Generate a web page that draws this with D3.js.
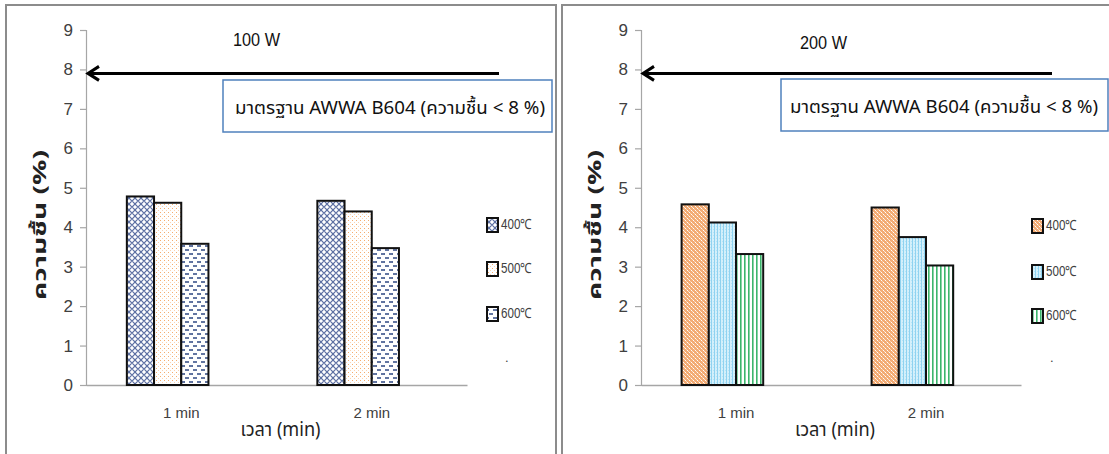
<!DOCTYPE html>
<html><head><meta charset="utf-8">
<script src="https://cdn.jsdelivr.net/npm/d3@7"></script>
<style>
html,body{margin:0;padding:0;background:#fff;}
svg{display:block;}
</style></head>
<body>
<svg id="chart" width="1109" height="454"></svg>
<script>
// ---------- data ----------
const categories = ["1 min", "2 min"];
const seriesNames = ["400℃", "500℃", "600℃", "."];
const yTicks = [0, 1, 2, 3, 4, 5, 6, 7, 8, 9];
const panelTitles = ["100 W", "200 W"];
const standardText = "มาตรฐาน  AWWA B604 (ความชื้น < 8 %)";
const yLabel = "ความชื้น (%)";
const xLabel = "เวลา (min)";
const standardLimit = 8;

// 100 W panel
const w100_400 = [4.78, 4.67];
const w100_500 = [4.62, 4.40];
const w100_600 = [3.58, 3.47];
const w100_blank = [null, null];
// 200 W panel
const w200_400 = [4.58, 4.50];
const w200_500 = [4.12, 3.75];
const w200_600 = [3.32, 3.03];
const w200_blank = [null, null];

// ---------- drawing ----------
const svg = d3.select("#chart");
const defs = svg.append("defs");
const NARROW = "'Liberation Sans Narrow','Liberation Sans',Arial,sans-serif";
const THAI = "'Noto Sans Thai','Leelawadee UI',Tahoma,'DejaVu Sans',sans-serif";

// patterns
function pat(id, w, h, build) {
  const p = defs.append("pattern").attr("id", id).attr("patternUnits", "userSpaceOnUse")
    .attr("width", w).attr("height", h);
  build(p);
}
pat("p100a", 6, 6, p => {
  p.append("rect").attr("width", 6).attr("height", 6).attr("fill", "#fff");
  p.append("path").attr("d", "M0,3 L3,0 L6,3 L3,6 Z").attr("fill", "none").attr("stroke", "#5d70a3").attr("stroke-width", 1.2);
});
pat("p100b", 4, 4, p => {
  p.append("rect").attr("width", 4).attr("height", 4).attr("fill", "#fff");
  p.append("rect").attr("x", 0).attr("y", 0).attr("width", 1).attr("height", 1).attr("fill", "#f4ac6e");
  p.append("rect").attr("x", 2).attr("y", 2).attr("width", 1).attr("height", 1).attr("fill", "#fad3b2");
});
pat("p100c", 8, 8, p => {
  p.append("rect").attr("width", 8).attr("height", 8).attr("fill", "#fff");
  p.append("line").attr("x1", 1).attr("x2", 5).attr("y1", 2).attr("y2", 2).attr("stroke", "#1f3a7a").attr("stroke-width", 1.4);
  p.append("line").attr("x1", 5).attr("x2", 9).attr("y1", 6).attr("y2", 6).attr("stroke", "#1f3a7a").attr("stroke-width", 1.4);
  p.append("line").attr("x1", -3).attr("x2", 1).attr("y1", 6).attr("y2", 6).attr("stroke", "#1f3a7a").attr("stroke-width", 1.4);
});
pat("p200a", 4, 4, p => {
  p.append("rect").attr("width", 4).attr("height", 4).attr("fill", "#f2ab74");
  p.append("rect").attr("x", 1).attr("y", 0).attr("width", 1).attr("height", 1).attr("fill", "#fff");
  p.append("rect").attr("x", 3).attr("y", 2).attr("width", 1).attr("height", 1).attr("fill", "#fff");
  p.append("rect").attr("x", 0).attr("y", 3).attr("width", 1).attr("height", 1).attr("fill", "#fde3cc");
  p.append("rect").attr("x", 2).attr("y", 1).attr("width", 1).attr("height", 1).attr("fill", "#fbd2b0");
});
pat("p200b", 3, 3, p => {
  p.append("rect").attr("width", 3).attr("height", 3).attr("fill", "#d4f0fb");
  p.append("rect").attr("x", 0).attr("y", 0).attr("width", 1).attr("height", 3).attr("fill", "#8fd2f0");
  p.append("rect").attr("x", 2).attr("y", 1).attr("width", 1).attr("height", 1).attr("fill", "#b6e4f7");
});
pat("p200c", 4, 4, p => {
  p.append("rect").attr("width", 4).attr("height", 4).attr("fill", "#fff");
  p.append("rect").attr("x", 0).attr("y", 0).attr("width", 1.6).attr("height", 4).attr("fill", "#3cb56c");
});

const panels = [
  { border: [6, 5, 550, 460], title: panelTitles[0], titleX: 233, titleY: 46,
    axisRange: [86, 467], series: [w100_400, w100_500, w100_600, w100_blank],
    fills: ["url(#p100a)", "url(#p100b)", "url(#p100c)", "none"],
    arrowRight: 499, box: [223, 80, 329, 52], boxText: [235, 545, 114],
    yLabelX: 40, legendX: 487, legendY: [218, 262, 307, 351] },
  { border: [562, 5, 560, 460], title: panelTitles[1], titleX: 800, titleY: 49,
    axisRange: [641, 1021], series: [w200_400, w200_500, w200_600, w200_blank],
    fills: ["url(#p200a)", "url(#p200b)", "url(#p200c)", "none"],
    arrowRight: 1052, box: [781, 79, 327, 52], boxText: [790, 1098, 113],
    yLabelX: 595, legendX: 1032, legendY: [219, 265, 309, 351] }
];

panels.forEach(P => {
  const g = svg.append("g");
  g.append("rect").attr("x", P.border[0]).attr("y", P.border[1]).attr("width", P.border[2]).attr("height", P.border[3])
    .attr("fill", "none").attr("stroke", "#8c8c8c").attr("stroke-width", 2);

  const y = d3.scaleLinear().domain([0, 9]).range([385, 30]);
  const x = d3.scaleBand().domain(categories).range(P.axisRange).padding(0);
  const barW = 27.2;
  const groupW = barW * seriesNames.length;
  const xs = d3.scaleBand().domain(d3.range(seriesNames.length))
    .range([(x.bandwidth() - groupW) / 2, (x.bandwidth() + groupW) / 2]).padding(0);

  const yAx = g.append("g").attr("transform", `translate(${P.axisRange[0]},0)`)
    .call(d3.axisLeft(y).tickValues(yTicks).tickSize(6).tickPadding(7).tickFormat(d3.format("d")));
  yAx.select(".domain").attr("stroke", "#a6a6a6").attr("stroke-width", 1.2);
  yAx.selectAll(".tick line").attr("stroke", "#a6a6a6").attr("stroke-width", 1.2);
  yAx.selectAll(".tick text").attr("fill", "#404040").attr("font-size", 17).attr("font-family", NARROW);

  const xAx = g.append("g").attr("transform", "translate(0,385)")
    .call(d3.axisBottom(x).tickSize(0).tickPadding(22));
  xAx.select(".domain").attr("stroke", "#a6a6a6").attr("stroke-width", 1.5);
  xAx.selectAll(".tick text").attr("fill", "#404040").attr("font-size", 15).attr("font-family", NARROW);

  P.series.forEach((vals, si) => {
    if (P.fills[si] === "none") return;
    g.selectAll(null).data(vals.map((v, i) => ({ v, c: categories[i] })).filter(d => d.v != null))
      .enter().append("rect")
      .attr("x", d => x(d.c) + xs(si))
      .attr("y", d => y(d.v))
      .attr("width", xs.bandwidth())
      .attr("height", d => y(0) - y(d.v))
      .attr("fill", P.fills[si])
      .attr("stroke", "#111").attr("stroke-width", 2);
  });

  g.append("text").attr("x", P.titleX).attr("y", P.titleY).text(P.title)
    .attr("font-family", NARROW).attr("font-size", 18).attr("fill", "#111")
    .attr("textLength", 47).attr("lengthAdjust", "spacingAndGlyphs");

  const ay = y(standardLimit - 0.1);
  const tipX = P.axisRange[0] + 2;
  g.append("line").attr("x1", P.arrowRight).attr("x2", tipX + 2).attr("y1", ay).attr("y2", ay)
    .attr("stroke", "#000").attr("stroke-width", 3);
  g.append("path").attr("d", `M${tipX + 11},${ay - 7} L${tipX},${ay} L${tipX + 11},${ay + 7}`)
    .attr("fill", "none").attr("stroke", "#000").attr("stroke-width", 3);

  g.append("rect").attr("x", P.box[0]).attr("y", P.box[1]).attr("width", P.box[2]).attr("height", P.box[3])
    .attr("fill", "#fff").attr("stroke", "#4f81bd").attr("stroke-width", 1.5);
  g.append("text").attr("x", P.boxText[0]).attr("y", P.boxText[2]).text(standardText)
    .attr("font-family", THAI).attr("font-size", 18).attr("fill", "#111")
    .attr("textLength", P.boxText[1] - P.boxText[0]).attr("lengthAdjust", "spacingAndGlyphs");

  g.append("text").attr("transform", `translate(${P.yLabelX + 6},225) rotate(-90)`)
    .attr("text-anchor", "middle").text(yLabel)
    .attr("font-family", THAI).attr("font-weight", "bold").attr("font-size", 17).attr("fill", "#222")
    .attr("textLength", 150).attr("lengthAdjust", "spacingAndGlyphs");

  g.append("text").attr("x", (P.axisRange[0] + P.axisRange[1]) / 2 + 4).attr("y", 436)
    .attr("text-anchor", "middle").text(xLabel)
    .attr("font-family", THAI).attr("font-size", 19).attr("fill", "#222")
    .attr("textLength", 80).attr("lengthAdjust", "spacingAndGlyphs");

  seriesNames.forEach((name, si) => {
    const ly = P.legendY[si];
    if (P.fills[si] !== "none") {
      g.append("rect").attr("x", P.legendX).attr("y", ly).attr("width", 11).attr("height", 14)
        .attr("fill", P.fills[si]).attr("stroke", "#111").attr("stroke-width", 2);
      g.append("text").attr("x", P.legendX + 14).attr("y", ly + 11).text(name)
        .attr("font-family", NARROW).attr("font-size", 14).attr("fill", "#404040")
        .attr("textLength", 31).attr("lengthAdjust", "spacingAndGlyphs");
    } else {
      g.append("text").attr("x", P.legendX + 18).attr("y", ly + 11).text(name)
        .attr("font-family", NARROW).attr("font-size", 13).attr("fill", "#404040");
    }
  });
});
</script>
</body></html>
